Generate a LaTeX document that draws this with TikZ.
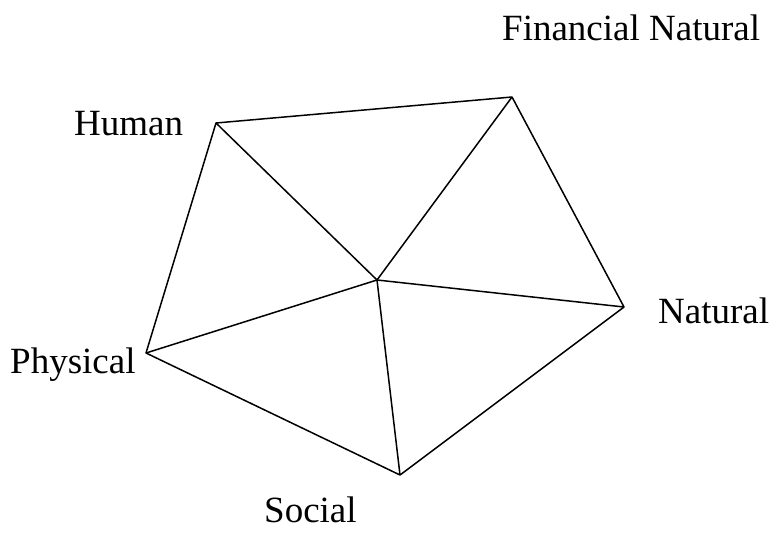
\documentclass[tikz,border=0pt]{standalone}
\usepackage{fontspec}
\setmainfont{Liberation Serif}
\usepackage{tikz}
\usetikzlibrary{positioning}

\begin{document}
\begin{tikzpicture}[
    x=1pt, y=-1pt,
    edge/.style={
      draw=black,
      line width=1.5pt,
      line join=round
    },
    capital/.style={
      font=\fontsize{37}{42}\selectfont,
      anchor=base west,
      inner sep=0pt
    }
  ]
  \useasboundingbox (0,0) rectangle (773,533);

  % vertices of the pentagon
  \coordinate (human) at (216,123);
  \coordinate (fin)   at (512,97);
  \coordinate (nat)   at (624,307);
  \coordinate (soc)   at (400,475);
  \coordinate (phys)  at (146,353);
  \coordinate (mid)   at (377,280);

  % outline
  \draw[edge] (human) -- (fin) -- (nat) -- (soc) -- (phys) -- cycle;

  % spokes to the centre
  \draw[edge] (human) -- (mid);
  \draw[edge] (fin)   -- (mid);
  \draw[edge] (nat)   -- (mid);
  \draw[edge] (soc)   -- (mid);
  \draw[edge] (phys)  -- (mid);

  % labels
  \node[capital] (lfin)   at (502,40)  {Financial Natural};
  \node[capital] (lhuman) at (74,135)  {Human};
  \node[capital] (lnat)   at (658,323) {Natural};
  \node[capital] (lphys)  at (10,373)  {Physical};
  \node[capital] (lsoc)   at (264,522) {Social};

\end{tikzpicture}
\end{document}
